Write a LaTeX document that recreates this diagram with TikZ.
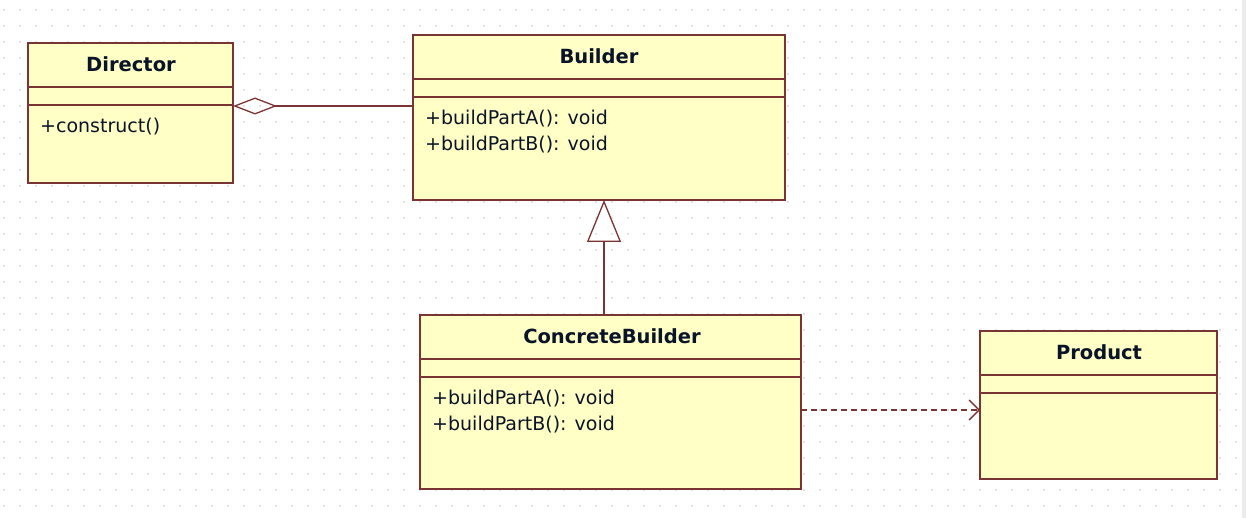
\documentclass[tikz,border=0pt]{standalone}
\usepackage{fontspec}
\setmainfont{DejaVu Sans}
\usetikzlibrary{arrows.meta,calc}
\definecolor{umlfill}{RGB}{255,255,198}
\definecolor{umlline}{RGB}{122,52,52}
\definecolor{umltext}{RGB}{10,20,40}
\definecolor{dotgray}{RGB}{200,200,200}
\definecolor{stripgray}{RGB}{236,236,236}
\begin{document}
\begin{tikzpicture}[x=1pt,y=-1pt,
  cls/.style={draw=umlline,fill=umlfill,line width=1.4pt,rectangle,anchor=north west,inner sep=0pt,outer sep=0pt},
  sep/.style={draw=umlline,line width=1.4pt},
  title/.style={font=\fontsize{19.5}{23}\selectfont\bfseries,text=umltext,inner sep=0pt},
  member/.style={font=\fontsize{19}{23}\selectfont,text=umltext,inner sep=0pt,anchor=west},
  conn/.style={draw=umlline,line width=1.3pt},
]
\useasboundingbox (0,0) rectangle (1246,518);
\fill[white] (0,0) rectangle (1246,518);
\fill[stripgray] (1242,0) rectangle (1246,518);
% dotted grid
\foreach \i in {0,...,77}{
  \foreach \j in {0,...,31}{
    \fill[dotgray] ({4+16*\i},{10+16*\j}) circle[radius=0.9];
  }
}
% classes
\node[cls,minimum width=205,minimum height=140] (dir) at (28,43) {};
\node[cls,minimum width=372,minimum height=165] (bld) at (413,35) {};
\node[cls,minimum width=381,minimum height=174] (cb) at (420,315) {};
\node[cls,minimum width=237,minimum height=148] (prod) at (980,331) {};
\foreach \n in {dir,bld,cb,prod}{
  \draw[sep] ($(\n.north west)+(0,44)$) -- ($(\n.north east)+(0,44)$);
  \draw[sep] ($(\n.north west)+(0,62)$) -- ($(\n.north east)+(0,62)$);
}
% texts
\node[title] (dirT) at (131,64) {Director};
\node[member] (dirM) at (40,127) {+construct()};
\node[title] (bldT) at (599,56) {Builder};
\node[member] (bldM1) at (425,119) {+buildPartA(): void};
\node[member] (bldM2) at (425,145) {+buildPartB(): void};
\node[title] (cbT) at (612,336) {ConcreteBuilder};
\node[member] (cbM1) at (432,399) {+buildPartA(): void};
\node[member] (cbM2) at (432,425) {+buildPartB(): void};
\node[title] (prodT) at (1099,352) {Product};
% connectors
\coordinate (aggS) at ($(dir.north east)+(0,63)$);
\draw[conn,{Diamond[open,length=44pt,width=17pt]}-] (aggS) -- (aggS -| bld.west);
\coordinate (genT) at (604,0);
\draw[conn,{Triangle[open,length=42pt,width=34pt]}-] (genT |- bld.south) -- (genT |- cb.north);
\coordinate (depS) at ($(cb.north east)+(0,95)$);
\draw[conn,dash pattern=on 6pt off 4pt,-{Straight Barb[length=10pt,width=20pt]}] (depS) -- (depS -| prod.west);
\end{tikzpicture}
\end{document}
